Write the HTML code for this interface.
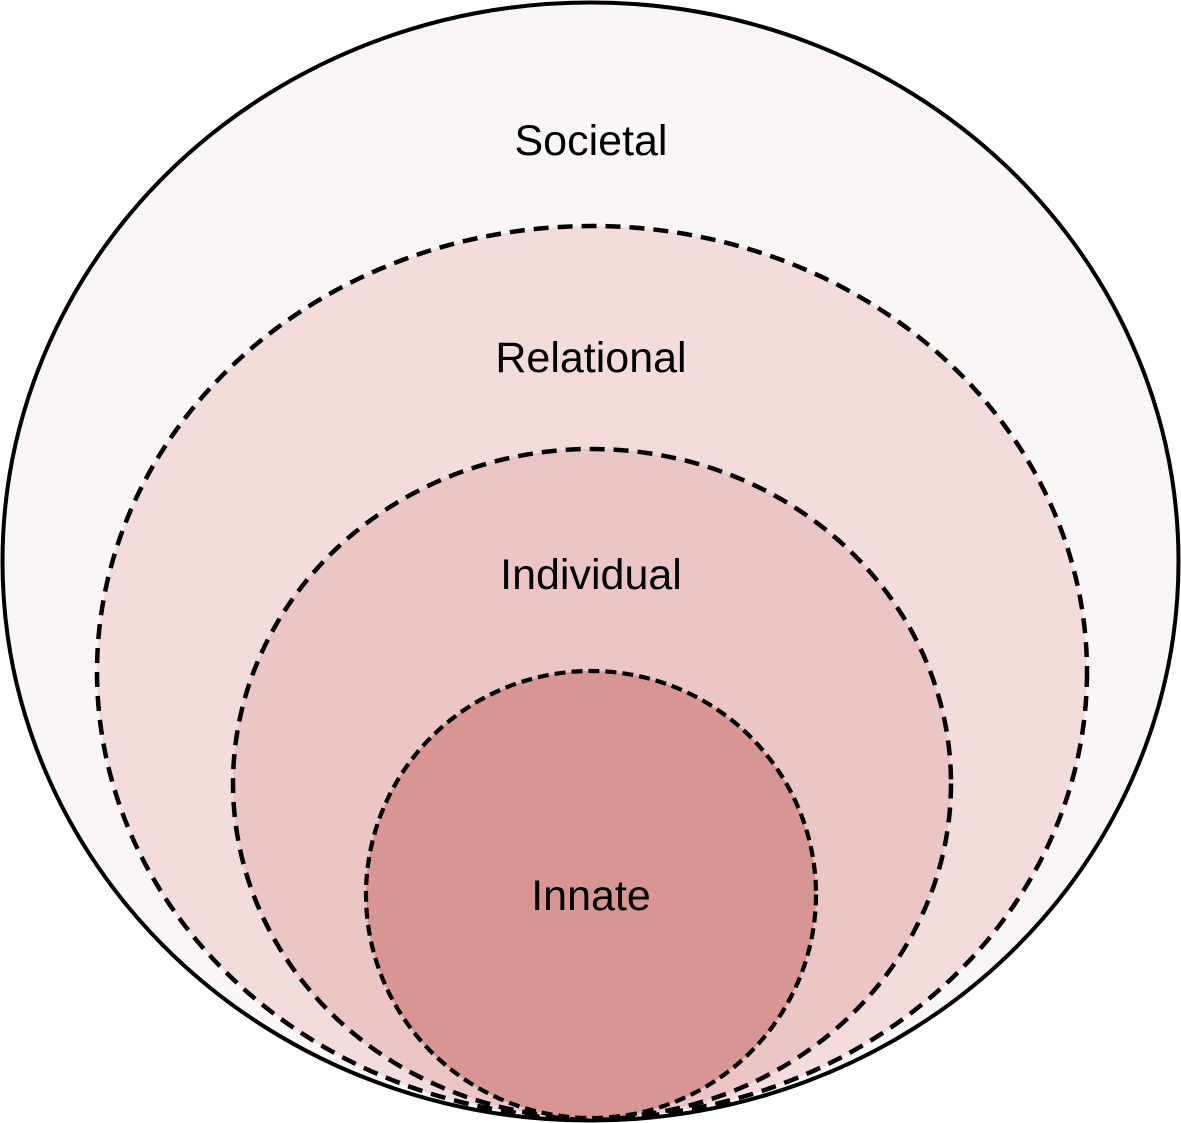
<!DOCTYPE html>
<html><head><meta charset="utf-8"><style>
html,body{margin:0;padding:0;background:#fff;}
svg{display:block;}
text{font-family:"Liberation Sans",Arial,sans-serif;font-size:43px;fill:#000;text-anchor:middle;dominant-baseline:central;}
</style></head><body>
<svg width="1181" height="1123" viewBox="0 0 1181 1123">
<ellipse cx="590.5" cy="561.5" rx="588" ry="559" fill="#fbf6f6" stroke="#000" stroke-width="4"/>
<ellipse cx="592" cy="672" rx="495" ry="446" fill="#f3dcdc" stroke="#000" stroke-width="4.5" stroke-dasharray="15 9"/>
<ellipse cx="592" cy="783.5" rx="359" ry="334.5" fill="#ecc6c6" stroke="#000" stroke-width="4.5" stroke-dasharray="15 9"/>
<ellipse cx="591" cy="894.5" rx="225" ry="223.5" fill="#d99494" stroke="#000" stroke-width="4.2" stroke-dasharray="11 6"/>
<text x="591" y="141">Societal</text>
<text x="591" y="358">Relational</text>
<text x="591" y="575">Individual</text>
<text x="591" y="896">Innate</text>
</svg>
</body></html>
